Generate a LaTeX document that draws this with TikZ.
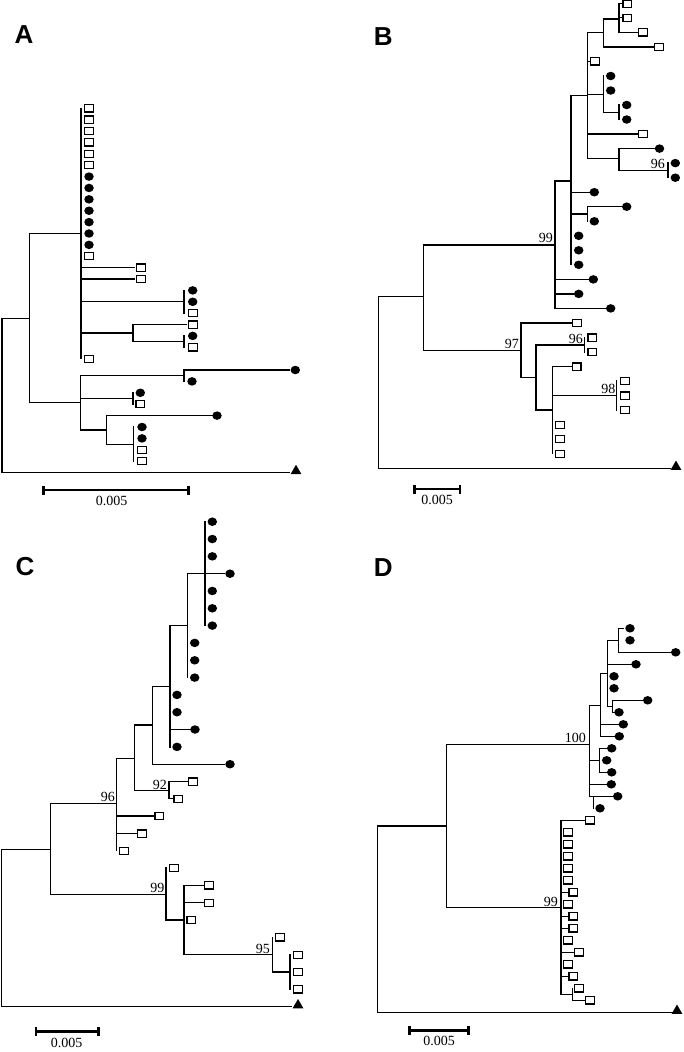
\documentclass[tikz,border=0pt]{standalone}
\usepackage{fontspec}
\setmainfont{Liberation Serif}
\newfontfamily\lettfont{Liberation Sans}
\usetikzlibrary{shapes.geometric}
\newcommand\lf[4]{\node[#1] (#2) at (#3,#4) {};}
\begin{document}
\begin{tikzpicture}[x=1pt,y=-1pt,
 br/.style={line width=1.35pt, line cap=rect},
 sq/.style={draw, line width=1.2pt, rectangle, minimum width=8.8pt, minimum height=7.2pt, inner sep=0pt, fill=white},
 ci/.style={fill=black, ellipse, minimum width=9.5pt, minimum height=8.5pt, inner sep=0pt},
 og/.style={fill=black, regular polygon, regular polygon sides=3, minimum size=12.5pt, inner sep=0pt},
 bs/.style={font=\fontsize{14}{14}\selectfont, anchor=base east, inner sep=0pt},
 lbl/.style={font=\lettfont\bfseries\fontsize{26}{26}\selectfont, inner sep=0pt},
 sb/.style={line width=2.8pt},
 sbt/.style={font=\fontsize{14}{14}\selectfont, inner sep=0pt}
]
\useasboundingbox (0,0) rectangle (683,1052);

% ================= A =================
\node[lbl] (LA) at (24,35) {A};
\draw[br] (2,318.3)--(2,472.5) (2,318.3)--(29.3,318.3) (29.3,233.7)--(29.3,402.7) (29.3,233.7)--(81,233.7);
\draw[br] (81,108.3)--(81,358.7);
\foreach \i/\t in {0/sq,1/sq,2/sq,3/sq,4/sq,5/sq,6/ci,7/ci,8/ci,9/ci,10/ci,11/ci,12/ci,13/sq}
  \node[\t] (A\i) at (89,{108.3+11.38*\i}) {};
\draw[br] (81,267.6)--(134,267.6) (81,279.0)--(134,279.0);
\lf{sq}{A14}{141}{267.6} \lf{sq}{A15}{141}{279.0}
\draw[br] (81,301.8)--(184,301.8) (184,290.4)--(184,313.1);
\lf{ci}{A16}{192.7}{290.4} \lf{ci}{A17}{192.7}{301.8} \lf{sq}{A18}{192.7}{313.1}
\draw[br] (81,333)--(133,333) (133,324.5)--(133,341.6) (133,324.5)--(186,324.5) (133,341.6)--(184,341.6) (184,335.9)--(184,347.3);
\lf{sq}{A19}{192.7}{324.5} \lf{ci}{A20}{192.7}{335.9} \lf{sq}{A21}{192.7}{347.3}
\lf{sq}{A22}{89}{358.7}
\draw[br] (29.3,402.7)--(80.3,402.7) (80.3,375.7)--(80.3,430);
\draw[br] (80.3,375.7)--(184,375.7) (184,370)--(184,381.4) (184,370)--(289,370);
\lf{ci}{A23}{295.3}{370} \lf{ci}{A24}{192}{381.4}
\draw[br] (80.3,398.5)--(133,398.5) (133,392.8)--(133,404.2);
\lf{ci}{A25}{140.3}{392.8} \lf{sq}{A26}{140.3}{404.2}
\draw[br] (80.3,430)--(106.7,430) (106.7,415.6)--(106.7,444.4) (106.7,415.6)--(212,415.6) (106.7,444.4)--(133.3,444.4) (133.3,427)--(133.3,461.1);
\lf{ci}{A27}{217}{415.6} \lf{ci}{A28}{142}{427} \lf{ci}{A29}{142}{438.4} \lf{sq}{A30}{142}{449.7} \lf{sq}{A31}{142}{461.1}
\draw[br] (2,472.5)--(289,472.5);
\node[og] (Aog) at (296,471) {};
\draw[sb] (43.3,490)--(188.7,490) (43.3,485.5)--(43.3,494.5) (188.7,485.5)--(188.7,494.5);
\node[sbt] (As) at (111.7,501) {0.005};

% ================= B =================
\node[lbl] (LB) at (383.3,36.7) {B};
\draw[br] (378.3,296.7)--(378.3,468.3) (378.3,296.7)--(423.3,296.7) (423.3,245)--(423.3,350.7) (423.3,245)--(555,245) (555,181)--(555,308.4) (555,181)--(571,181) (571,95.7)--(571,264.8) (571,95.7)--(587.7,95.7) (587.7,32.4)--(587.7,158.3);
\draw[br] (587.7,32.4)--(603.3,32.4) (603.3,19)--(603.3,46.9) (603.3,19)--(619,19) (619,3.3)--(619,32.4) (619,3.3)--(622,3.3) (619,17.8)--(622,17.8) (619,32.4)--(638,32.4) (603.3,46.9)--(653,46.9) (587.7,61.4)--(590,61.4);
\lf{sq}{B0}{627.3}{3.8} \lf{sq}{B1}{627.3}{17.8} \lf{sq}{B2}{643}{32.4} \lf{sq}{B3}{658.7}{46.9} \lf{sq}{B4}{595}{61.4}
\draw[br] (587.7,94.3)--(603.3,94.3) (603.3,76)--(603.3,112.3) (603.3,112.3)--(619,112.3) (619,105)--(619,119.5);
\lf{ci}{B5}{610.7}{76} \lf{ci}{B6}{610.7}{90.5} \lf{ci}{B7}{626.7}{105} \lf{ci}{B8}{626.7}{119.5}
\draw[br] (587.7,134.1)--(638,134.1);
\lf{sq}{B9}{643}{134.1}
\draw[br] (587.7,158.3)--(619,158.3) (619,148.6)--(619,170.4) (619,148.6)--(655,148.6) (619,170.4)--(668,170.4) (668,163.1)--(668,177.7);
\lf{ci}{B10}{659.5}{148.6} \lf{ci}{B11}{675.3}{163.1} \lf{ci}{B12}{675.3}{177.7}
\node[bs] (Bb96a) at (665,168.5) {96};
\draw[br] (571,192.2)--(589,192.2);
\lf{ci}{B13}{594.3}{192.2}
\draw[br] (571,214)--(587.7,214) (587.7,206.7)--(587.7,221.3) (587.7,206.7)--(621,206.7);
\lf{ci}{B14}{626.7}{206.7} \lf{ci}{B15}{594.3}{221.3}
\lf{ci}{B16}{578.7}{235.8} \lf{ci}{B17}{578.7}{250.3} \lf{ci}{B18}{578.7}{264.8}
\draw[br] (555,279.4)--(589,279.4) (555,293.9)--(573,293.9) (555,308.4)--(605,308.4);
\lf{ci}{B19}{593.3}{279.4} \lf{ci}{B20}{578.7}{293.9} \lf{ci}{B21}{610.7}{308.4}
\node[bs] (Bb99) at (553,242.5) {99};
\draw[br] (423.3,350.7)--(521,350.7) (521,323)--(521,377.3) (521,323)--(571,323);
\lf{sq}{B22}{576.7}{323}
\draw[br] (521,377.3)--(536,377.3) (536,345)--(536,410) (536,345)--(584.3,345) (584.3,337.5)--(584.3,352);
\lf{sq}{B23}{592.3}{337.5} \lf{sq}{B24}{592.3}{352}
\draw[br] (536,410)--(552.7,410) (552.7,366.6)--(552.7,453.7) (552.7,366.6)--(571,366.6);
\lf{sq}{B25}{576.5}{366.6}
\draw[br] (552.7,395.6)--(616.7,395.6) (616.7,381.1)--(616.7,410.1);
\lf{sq}{B26}{625}{381.1} \lf{sq}{B27}{625}{395.6} \lf{sq}{B28}{625}{410.1}
\lf{sq}{B29}{560}{424.7} \lf{sq}{B30}{560}{439.2} \lf{sq}{B31}{560}{453.7}
\node[bs] (Bb97) at (519,348) {97};
\node[bs] (Bb96b) at (583,343) {96};
\node[bs] (Bb98) at (615.5,393.5) {98};
\draw[br] (378.3,468.3)--(670,468.3);
\node[og] (Bog) at (676,466.8) {};
\draw[sb] (414.3,489)--(460,489) (414.3,484.5)--(414.3,493.5) (460,484.5)--(460,493.5);
\node[sbt] (Bs) at (437,500) {0.005};

% ================= C =================
\node[lbl] (LC) at (25,567) {C};
\draw[br] (1.5,849.3)--(1.5,1006.7) (1.5,849.3)--(50.7,849.3) (50.7,803.7)--(50.7,894.3) (50.7,803.7)--(116.7,803.7) (116.7,758.3)--(116.7,850.8) (116.7,758.3)--(134.3,758.3) (134.3,725)--(134.3,790.7) (134.3,725)--(152.3,725) (152.3,686.7)--(152.3,764.2) (152.3,686.7)--(170,686.7) (170,625.6)--(170,746.9) (170,625.6)--(187.3,625.6) (187.3,573.7)--(187.3,677.6);
\draw[br] (187.3,573.7)--(224,573.7) (205,521.7)--(205,625.6);
\lf{ci}{C3}{230}{573.7}
\foreach \i in {0,1,2,4,5,6} \node[ci] (C\i) at (212.3,{521.7+17.32*\i}) {};
\lf{ci}{C7}{194.7}{642.9} \lf{ci}{C8}{194.7}{660.3} \lf{ci}{C9}{194.7}{677.6}
\draw[br] (170,729.5)--(190,729.5);
\lf{ci}{C10}{177}{694.9} \lf{ci}{C11}{177}{712.2} \lf{ci}{C12}{195}{729.5} \lf{ci}{C13}{177}{746.9}
\draw[br] (152.3,764.2)--(224,764.2);
\lf{ci}{C14}{230}{764.2}
\draw[br] (134.3,790.7)--(169,790.7) (169,781.5)--(169,798.8) (169,781.5)--(187,781.5) (169,798.8)--(173,798.8);
\lf{sq}{C15}{192.7}{781.5} \lf{sq}{C16}{178.3}{798.8}
\node[bs] (Cb92) at (167,789) {92};
\draw[br] (116.7,816.1)--(154,816.1) (116.7,833.5)--(136.5,833.5);
\lf{sq}{C17}{159.3}{816.1} \lf{sq}{C18}{142}{833.5} \lf{sq}{C19}{124}{850.8}
\node[bs] (Cb96) at (115,801.5) {96};
\draw[br] (50.7,894.3)--(166,894.3) (166,868.1)--(166,920.1) (166,920.1)--(184,920.1) (184,885.4)--(184,954.7) (184,885.4)--(203.3,885.4) (184,902.7)--(203.3,902.7) (184,954.7)--(272.7,954.7) (272.7,937.4)--(272.7,972) (272.7,972)--(290,972) (290,954.7)--(290,989.3);
\lf{sq}{C20}{173.7}{868.1} \lf{sq}{C21}{209}{885.4} \lf{sq}{C22}{209}{902.7} \lf{sq}{C23}{191.3}{920.1}
\lf{sq}{C24}{280}{937.4} \lf{sq}{C25}{297.7}{954.7} \lf{sq}{C26}{297.7}{972} \lf{sq}{C27}{297.7}{989.3}
\node[bs] (Cb99) at (164.5,892) {99};
\node[bs] (Cb95) at (270,953) {95};
\draw[br] (1.5,1006.7)--(291.7,1006.7);
\node[og] (Cog) at (298,1005.2) {};
\draw[sb] (36,1031.7)--(98.3,1031.7) (36,1027.2)--(36,1036.2) (98.3,1027.2)--(98.3,1036.2);
\node[sbt] (Cs) at (66.7,1042.5) {0.005};

% ================= D =================
\node[lbl] (LD) at (383.3,568) {D};
\draw[br] (377.7,826)--(377.7,1012.3) (377.7,826)--(446.7,826) (446.7,744.3)--(446.7,907.7) (446.7,744.3)--(589.3,744.3) (589.3,705.7)--(589.3,796.3);
\draw[br] (589.3,705.7)--(600.7,705.7) (600.7,673.3)--(600.7,736.3) (600.7,673.3)--(607.3,673.3) (607.3,640.3)--(607.3,706.3) (607.3,640.3)--(618.3,640.3) (618.3,628.3)--(618.3,652.3) (618.3,628.3)--(623,628.3) (618.3,652.3)--(670,652.3);
\lf{ci}{D0}{630}{628.3} \lf{ci}{D1}{630}{640.3} \lf{ci}{D2}{675.7}{652.3}
\draw[br] (607.3,664.3)--(631.7,664.3) (607.3,706.3)--(612.3,706.3) (612.3,700.3)--(612.3,712.3) (612.3,700.3)--(644,700.3) (612.3,712.3)--(614,712.3);
\lf{ci}{D3}{636}{664.3} \lf{ci}{D4}{614}{676.3} \lf{ci}{D5}{614}{688.3} \lf{ci}{D6}{647.7}{700.3} \lf{ci}{D7}{619}{712.3}
\draw[br] (600.7,724.3)--(620,724.3) (600.7,736.3)--(616.7,736.3);
\lf{ci}{D8}{623.3}{724.3} \lf{ci}{D9}{619.3}{736.3}
\draw[br] (589.3,760.3)--(599.3,760.3) (599.3,748.3)--(599.3,772.3) (599.3,748.3)--(607,748.3) (599.3,772.3)--(607,772.3);
\lf{ci}{D10}{611.7}{748.3} \lf{ci}{D11}{606.7}{760.3} \lf{ci}{D12}{611.7}{772.3}
\draw[br] (589.3,784.3)--(608.3,784.3) (589.3,796.3)--(614,796.3) (593.3,796.3)--(593.3,808.3);
\lf{ci}{D13}{611.3}{784.3} \lf{ci}{D14}{617.7}{796.3} \lf{ci}{D15}{600}{808.3}
\node[bs] (Db100) at (586,742.5) {100};
\draw[br] (446.7,907.7)--(561,907.7) (561,820.3)--(561,994.3) (561,820.3)--(584,820.3);
\lf{sq}{D16}{590}{820.3}
\foreach \i in {17,18,19,20,21,23,26,28} \node[sq] (D\i) at (567.7,{628.3+12*\i}) {};
\foreach \i in {22,24,25,29} {\draw[br] (561,{628.3+12*\i})--(567,{628.3+12*\i}); \node[sq] (D\i) at (573.3,{628.3+12*\i}) {};}
\draw[br] (561,952.3)--(574,952.3);
\lf{sq}{D27}{579}{952.3}
\draw[br] (561,994.3)--(572.3,994.3) (572.3,988.3)--(572.3,1000.3) (572.3,1000.3)--(585,1000.3);
\lf{sq}{D30}{579}{988.3} \lf{sq}{D31}{590}{1000.3}
\node[bs] (Db99) at (558,906) {99};
\draw[br] (377.7,1012.3)--(672,1012.3);
\node[og] (Dog) at (677,1010.8) {};
\draw[sb] (409.3,1030.7)--(468.3,1030.7) (409.3,1026.2)--(409.3,1035.2) (468.3,1026.2)--(468.3,1035.2);
\node[sbt] (Ds) at (439,1041) {0.005};
\end{tikzpicture}
\end{document}
